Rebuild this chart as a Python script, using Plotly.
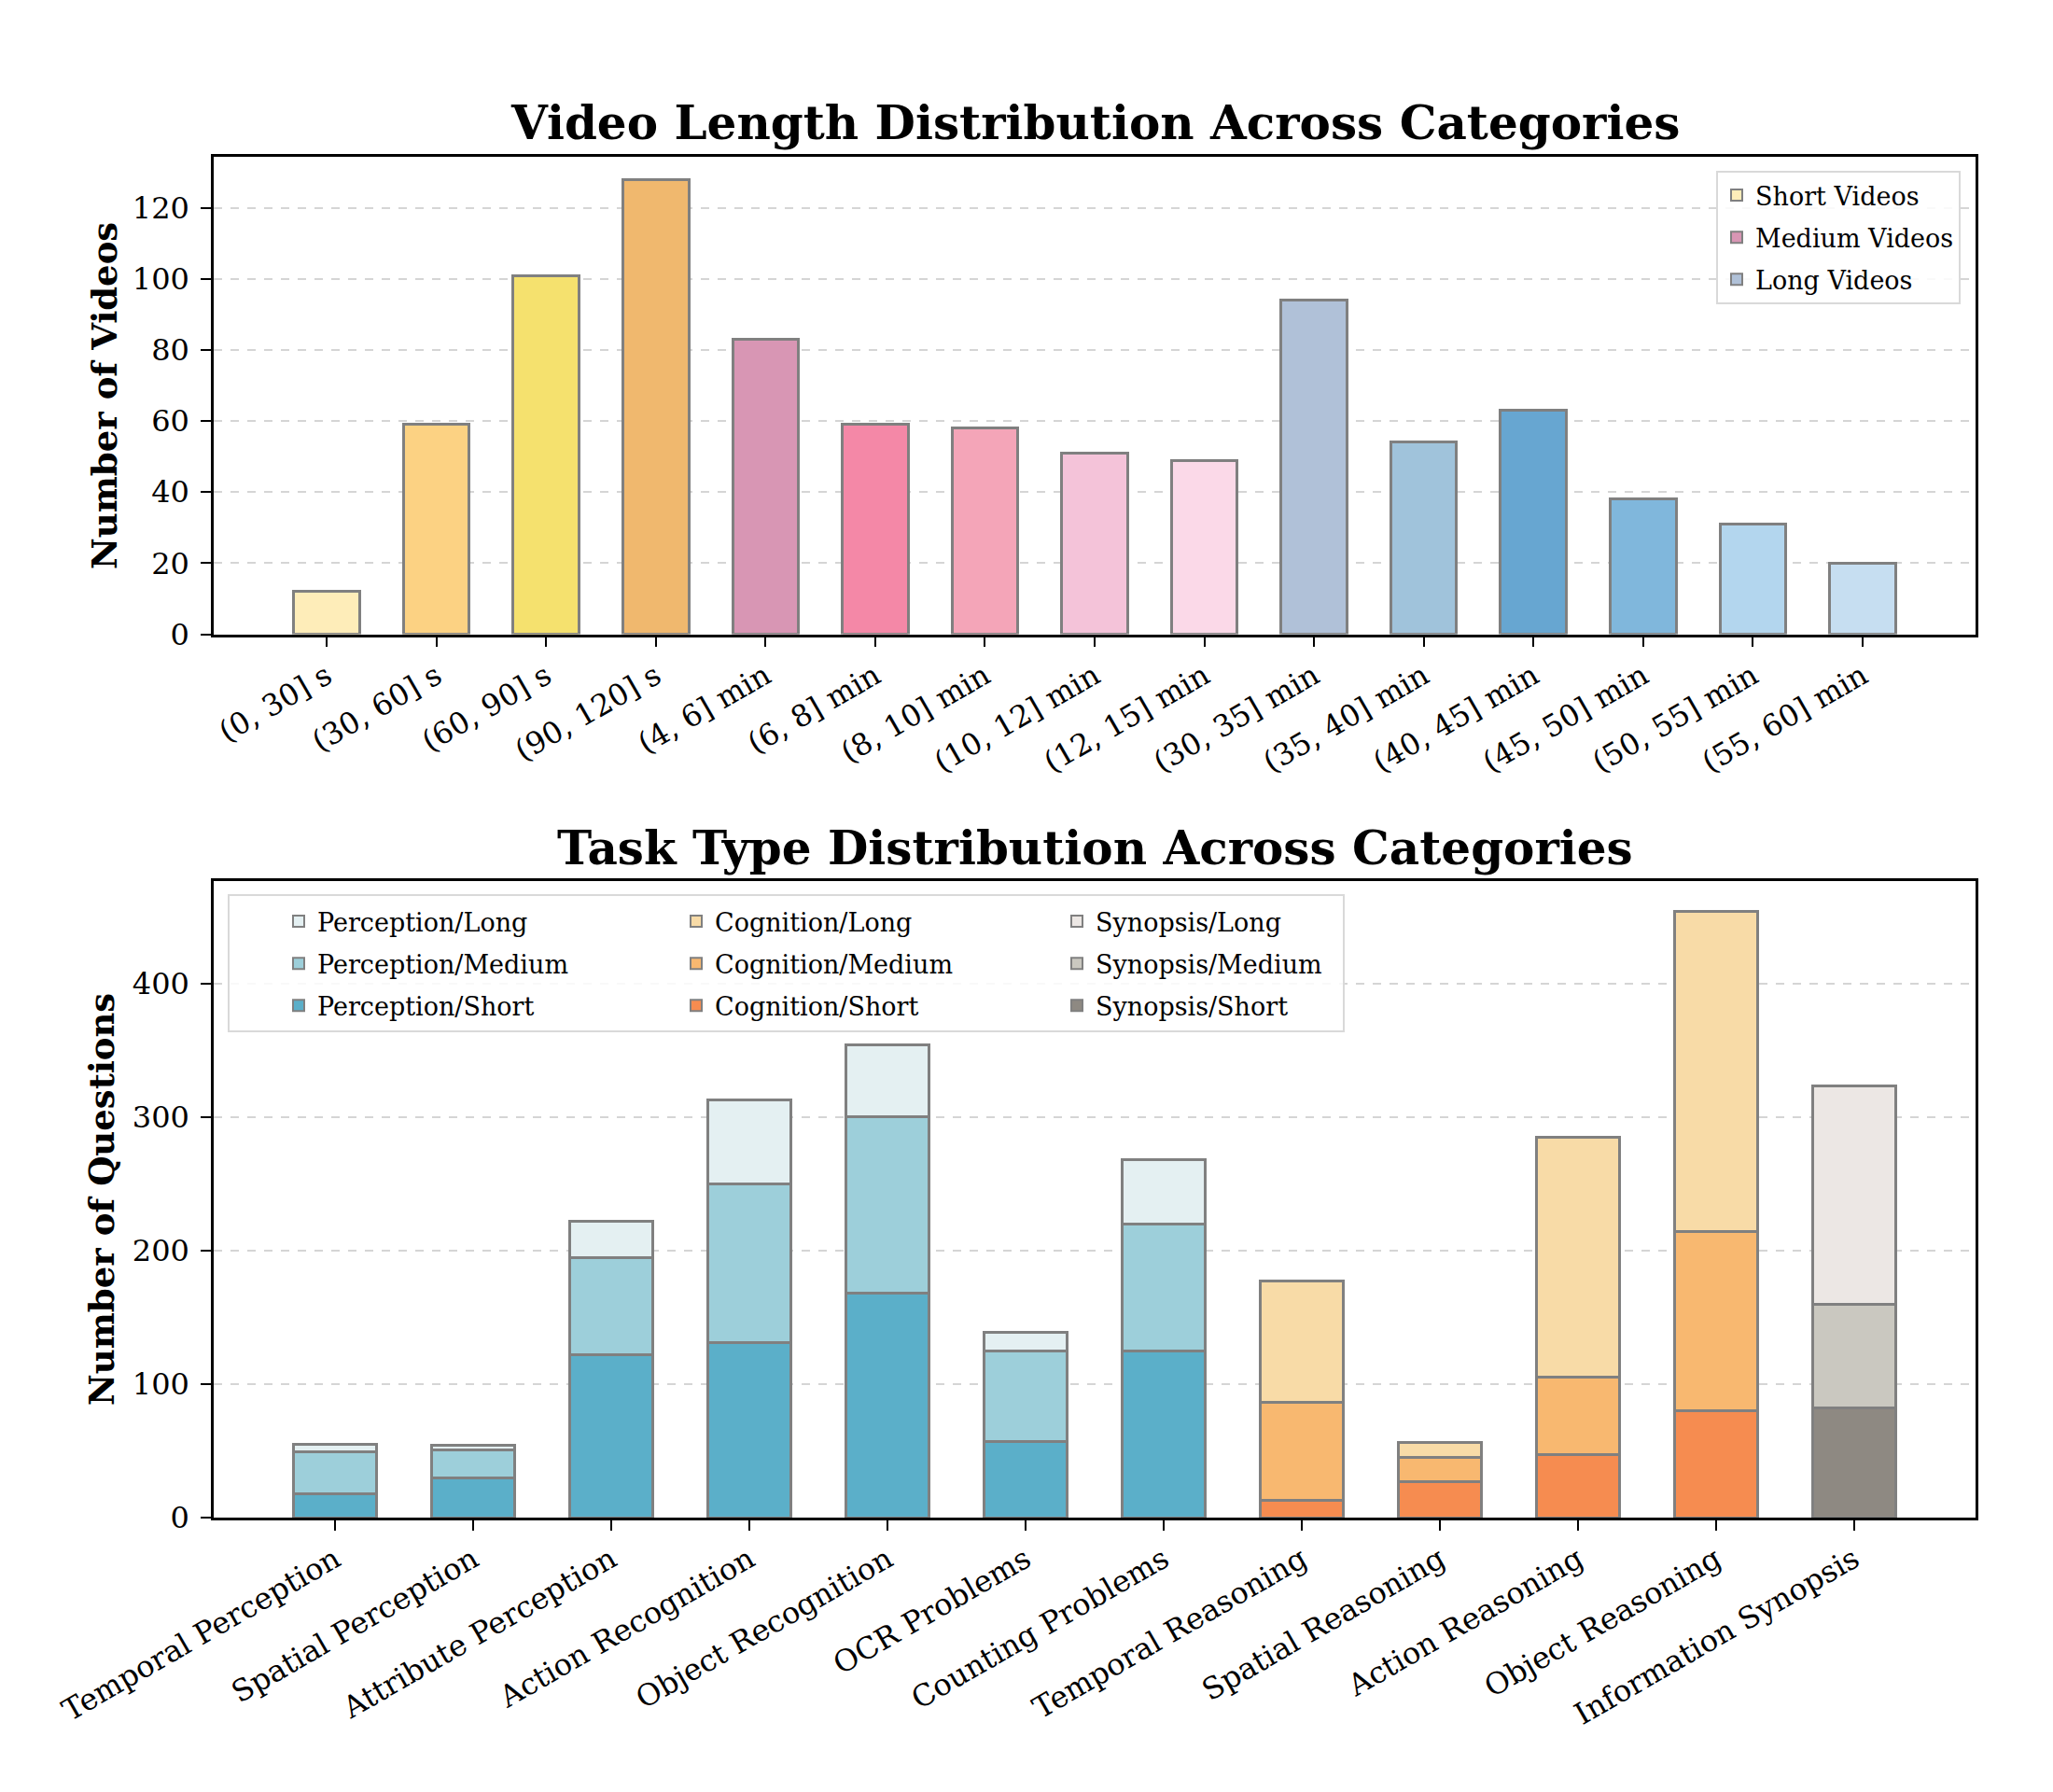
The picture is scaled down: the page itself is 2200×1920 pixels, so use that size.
import plotly.graph_objects as go

# ---------------- data ----------------
short_labels = ["(0, 30] s", "(30, 60] s", "(60, 90] s", "(90, 120] s"]
short_counts = [12, 59, 101, 128]
short_colors = ["#FEEDB9", "#FCD283", "#F5E16E", "#F0B86E"]

medium_labels = ["(4, 6] min", "(6, 8] min", "(8, 10] min", "(10, 12] min", "(12, 15] min"]
medium_counts = [83, 59, 58, 51, 49]
medium_colors = ["#D896B4", "#F488A7", "#F4A5B8", "#F4C3D9", "#FBD9E8"]

long_labels = ["(30, 35] min", "(35, 40] min", "(40, 45] min", "(45, 50] min", "(50, 55] min", "(55, 60] min"]
long_counts = [94, 54, 63, 38, 31, 20]
long_colors = ["#B0C1D8", "#A0C3DB", "#67A6D1", "#80B7DC", "#B3D6EE", "#C6DEF1"]

tasks = ["Temporal Perception", "Spatial Perception", "Attribute Perception",
         "Action Recognition", "Object Recognition", "OCR Problems",
         "Counting Problems", "Temporal Reasoning", "Spatial Reasoning",
         "Action Reasoning", "Object Reasoning", "Information Synopsis"]

perception_short = [18, 30, 122, 131, 168, 57, 125, None, None, None, None, None]
perception_medium = [31, 21, 73, 119, 132, 68, 95, None, None, None, None, None]
perception_long = [6, 3, 27, 63, 54, 14, 48, None, None, None, None, None]

cognition_short = [None, None, None, None, None, None, None, 13, 27, 47, 80, None]
cognition_medium = [None, None, None, None, None, None, None, 73, 18, 58, 134, None]
cognition_long = [None, None, None, None, None, None, None, 91, 11, 180, 240, None]

synopsis_short = [None] * 11 + [82]
synopsis_medium = [None] * 11 + [78]
synopsis_long = [None] * 11 + [163]

task_colors = {
    "Perception": {"Short": "#5BAFC9", "Medium": "#9DCFDA", "Long": "#E4F0F2"},
    "Cognition": {"Short": "#F68C50", "Medium": "#F8B870", "Long": "#F8DBA7"},
    "Synopsis": {"Short": "#8E8982", "Medium": "#CAC8C0", "Long": "#ECE7E4"},
}

# ---------------- style ----------------
FONT = "DejaVu Serif"
EDGE = "#808080"
W, H = 2200, 1920

def py(p):
    return 1 - p / H

def px(p):
    return p / W

fig = go.Figure()

# top chart
for name, labels, counts, colors in [
    ("Short Videos", short_labels, short_counts, short_colors),
    ("Medium Videos", medium_labels, medium_counts, medium_colors),
    ("Long Videos", long_labels, long_counts, long_colors),
]:
    fig.add_trace(go.Bar(
        x=labels, y=counts, name=name, width=0.6,
        marker=dict(color=colors, line=dict(color=EDGE, width=3)),
        xaxis="x", yaxis="y", legend="legend", legendgroup=name,
    ))

# bottom chart
groups = [
    ("Perception", perception_short, perception_medium, perception_long, "legend2"),
    ("Cognition", cognition_short, cognition_medium, cognition_long, "legend3"),
    ("Synopsis", synopsis_short, synopsis_medium, synopsis_long, "legend4"),
]
for g, s, m, l, leg in groups:
    for lvl, vals, rank in [("Short", s, 3), ("Medium", m, 2), ("Long", l, 1)]:
        fig.add_trace(go.Bar(
            x=tasks, y=vals, name=f"{g}/{lvl}", width=0.6,
            marker=dict(color=task_colors[g][lvl], line=dict(color=EDGE, width=3)),
            xaxis="x2", yaxis="y2", legend=leg, legendrank=rank,
            legendgroup=f"{g}/{lvl}",
        ))

axis_common = dict(
    showline=True, mirror=True, linecolor="black", linewidth=2.5,
    ticks="outside", ticklen=11, tickwidth=2, tickcolor="black",
    tickfont=dict(family=FONT, size=32, color="black"),
    automargin=False,
)

leg_common = dict(traceorder="grouped", tracegroupgap=7, itemsizing="constant")

fig.update_layout(
    width=W, height=H,
    margin=dict(l=0, r=0, t=0, b=0, autoexpand=False),
    paper_bgcolor="white", plot_bgcolor="white",
    barmode="stack",
    font=dict(family=FONT, color="black"),
    xaxis=dict(domain=[px(229), px(2117)], anchor="y", type="category",
               range=[-1.03, 15.03], tickangle=-30, showgrid=False, **axis_common),
    yaxis=dict(domain=[py(679.5), py(168)], anchor="x", range=[0, 134.4],
               tickvals=[0, 20, 40, 60, 80, 100, 120],
               showgrid=True, gridcolor="#d5d5d5", griddash="dash", gridwidth=2,
               zeroline=False, ticklabelstandoff=6, **axis_common),
    xaxis2=dict(domain=[px(229), px(2117)], anchor="y2", type="category",
                range=[-0.88, 11.88], tickangle=-30, showgrid=False, **axis_common),
    yaxis2=dict(domain=[py(1626), py(944)], anchor="x2", range=[0, 476.7],
                tickvals=[0, 100, 200, 300, 400],
                showgrid=True, gridcolor="#d5d5d5", griddash="dash", gridwidth=2,
                zeroline=False, ticklabelstandoff=6, **axis_common),
    legend=dict(x=px(2101), xanchor="right", y=py(183), yanchor="top",
                bgcolor="rgba(255,255,255,0.85)", bordercolor="#d9d9d9", borderwidth=2,
                font=dict(family=FONT, size=27, color="black"), **leg_common),
    legend2=dict(x=px(300), xanchor="left", y=py(963), yanchor="top",
                 bgcolor="rgba(0,0,0,0)", borderwidth=0,
                 font=dict(family=FONT, size=27, color="black"), **leg_common),
    legend3=dict(x=px(726), xanchor="left", y=py(963), yanchor="top",
                 bgcolor="rgba(0,0,0,0)", borderwidth=0,
                 font=dict(family=FONT, size=27, color="black"), **leg_common),
    legend4=dict(x=px(1134), xanchor="left", y=py(963), yanchor="top",
                 bgcolor="rgba(0,0,0,0)", borderwidth=0,
                 font=dict(family=FONT, size=27, color="black"), **leg_common),
    shapes=[dict(type="rect", xref="paper", yref="paper",
                 x0=px(245), x1=px(1440), y0=py(1105), y1=py(959),
                 fillcolor="rgba(255,255,255,0.85)",
                 line=dict(color="#d9d9d9", width=2), layer="above")],
    annotations=[
        dict(text="<b>Video Length Distribution Across Categories</b>",
             xref="paper", yref="paper", x=px(1173), y=py(131), xanchor="center",
             yanchor="middle", showarrow=False, font=dict(family=FONT, size=50)),
        dict(text="<b>Task Type Distribution Across Categories</b>",
             xref="paper", yref="paper", x=px(1173), y=py(909), xanchor="center",
             yanchor="middle", showarrow=False, font=dict(family=FONT, size=50)),
        dict(text="<b>Number of Videos</b>", textangle=-90,
             xref="paper", yref="paper", x=px(112), y=py(424), xanchor="center",
             yanchor="middle", showarrow=False, font=dict(family=FONT, size=37)),
        dict(text="<b>Number of Questions</b>", textangle=-90,
             xref="paper", yref="paper", x=px(109), y=py(1285), xanchor="center",
             yanchor="middle", showarrow=False, font=dict(family=FONT, size=37)),
    ],
)

fig.write_html("out.html")
